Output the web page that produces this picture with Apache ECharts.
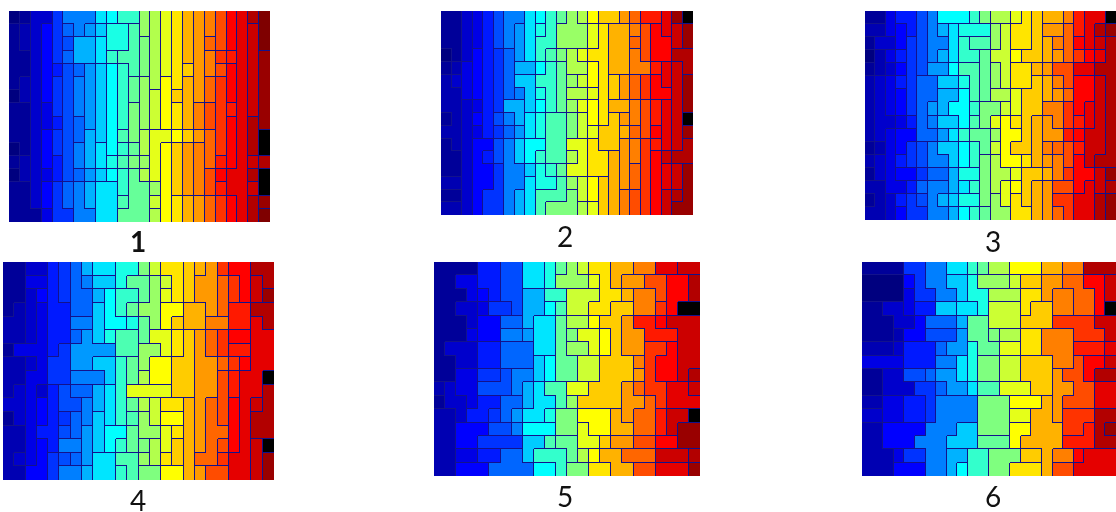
<!DOCTYPE html>
<html>
<head>
<meta charset="utf-8">
<style>html,body{margin:0;padding:0;background:#fff}#c{width:1116px;height:512px}</style>
<script src="https://cdn.jsdelivr.net/npm/echarts@6/dist/echarts.min.js"></script>
</head>
<body>
<div id="c"></div>
<script>
// Colour level of each cell (0 dark blue .. 40 dark red, -1 black hole)
const panel1 = [
[0,1,3,3,7,10,10,10,14,15,17,17,21,22,24,26,28,29,30,32,35,36,38,40],
[1,2,3,5,7,9,10,11,13,16,16,18,21,22,24,26,28,29,30,32,35,36,37,40],
[1,2,3,5,7,8,12,12,14,16,16,18,20,22,24,26,28,29,31,32,35,36,37,40],
[1,1,3,5,7,9,12,12,14,17,18,18,20,22,24,26,28,29,30,33,34,36,37,39],
[1,1,3,5,6,8,9,11,13,15,17,18,20,22,24,26,27,29,30,32,35,36,37,39],
[1,2,3,5,7,8,10,11,13,15,17,19,21,22,25,26,28,29,31,33,35,36,37,39],
[0,2,3,5,7,8,10,11,13,15,17,19,21,23,25,27,28,29,31,33,35,36,37,39],
[1,1,3,4,7,8,10,11,13,15,17,20,21,23,25,26,28,30,32,33,34,36,37,39],
[1,1,3,4,6,8,9,11,13,15,17,20,21,23,25,26,28,30,32,33,35,36,38,39],
[1,1,3,5,7,8,9,12,13,15,18,20,22,24,24,25,27,29,31,33,35,36,38,-1],
[0,1,3,5,7,8,10,12,14,15,17,19,22,24,25,27,29,30,31,33,35,36,38,-1],
[1,2,3,5,6,8,10,12,14,16,18,20,21,24,25,27,29,30,31,34,35,36,37,38],
[0,2,3,4,6,8,9,11,13,15,17,19,22,24,25,27,29,30,32,35,36,36,38,-1],
[1,1,3,5,7,9,10,12,14,14,17,19,19,21,25,27,29,30,32,34,36,36,37,-1],
[1,1,3,5,7,9,10,12,14,14,18,19,19,23,25,26,28,29,31,33,35,36,38,39],
[1,1,1,4,7,7,10,10,14,14,19,19,19,22,25,26,28,29,31,33,35,36,38,40]
];
const panel2 = [
[1,1,3,4,6,8,10,10,14,15,17,19,21,22,25,27,27,29,31,34,34,36,39,-1],
[1,1,3,4,6,8,10,11,14,16,17,21,21,21,24,26,28,28,30,32,35,36,37,39],
[1,1,3,4,6,8,10,11,14,17,17,21,21,21,24,26,28,28,31,32,35,35,37,39],
[0,1,3,5,6,7,9,11,14,17,18,20,22,24,26,26,28,28,30,32,35,35,38,38],
[1,2,4,5,6,7,9,12,12,15,17,19,22,22,25,26,28,28,30,30,34,36,37,38],
[2,3,4,5,6,7,9,13,13,17,17,19,21,23,25,26,27,29,31,33,35,36,37,39],
[2,2,4,5,6,7,9,10,13,16,17,19,22,22,24,26,27,29,31,33,35,35,37,39],
[2,2,3,4,6,7,12,12,13,15,17,19,21,24,25,26,28,28,30,32,34,36,37,39],
[1,2,3,5,6,8,10,12,14,16,18,18,20,23,25,26,27,29,30,32,34,36,37,-1],
[2,2,3,4,6,7,9,11,14,16,18,18,20,23,24,27,27,28,31,32,35,36,37,39],
[1,2,3,5,5,8,10,13,15,15,18,18,24,24,26,27,27,29,30,33,34,36,37,38],
[1,1,3,5,6,8,10,13,15,17,18,18,22,24,26,26,28,29,30,33,35,37,38,38],
[1,1,3,5,5,7,10,10,13,16,17,19,24,24,26,26,28,29,31,33,35,36,37,39],
[2,2,3,5,5,7,10,10,14,16,16,18,21,23,25,27,28,29,31,33,35,36,37,39],
[1,1,3,5,7,7,10,12,14,18,18,18,20,23,25,27,28,30,32,33,35,37,38,39],
[2,2,3,5,7,7,10,12,14,18,20,20,20,22,24,27,28,30,32,33,35,37,39,39]
];
const panel3 = [
[1,1,4,6,6,8,10,15,15,15,17,20,22,22,24,26,27,28,28,30,34,36,36,-1],
[2,2,4,5,6,8,10,12,14,16,16,16,21,23,26,26,27,29,29,31,34,36,38,39],
[1,3,3,5,7,8,10,10,14,17,18,18,21,23,26,26,27,28,30,31,35,36,37,38],
[0,2,4,6,7,8,10,12,14,17,17,19,23,23,25,27,27,28,29,31,33,35,36,38],
[1,2,3,5,7,8,11,11,15,18,18,19,21,23,26,26,28,29,32,32,36,36,38,38],
[2,3,4,6,7,9,9,13,13,16,18,19,21,23,26,26,27,28,30,32,35,35,37,38],
[2,3,4,5,7,9,9,12,12,15,18,19,22,22,24,27,27,28,29,31,35,35,37,38],
[2,3,4,5,7,9,11,12,15,15,17,20,20,23,24,27,27,30,30,33,35,36,37,38],
[2,3,3,4,6,9,10,13,13,15,18,20,24,25,26,27,28,29,30,33,34,36,37,38],
[2,3,4,5,5,9,9,11,14,17,19,19,21,25,25,27,28,29,29,34,35,37,37,38],
[1,2,4,5,7,8,10,13,13,15,17,19,23,25,27,27,28,30,31,32,34,37,37,38],
[2,3,4,6,7,8,10,10,13,15,17,20,22,25,25,26,28,29,30,32,35,37,38,38],
[1,3,4,5,5,7,9,9,12,16,16,20,22,22,24,27,27,28,30,33,35,35,37,39],
[2,2,4,4,6,9,10,10,12,14,17,20,22,24,25,27,28,29,32,32,35,36,37,38],
[1,2,3,6,7,8,10,12,13,16,16,20,21,24,26,27,28,29,33,33,36,36,38,39],
[2,2,3,5,7,7,10,10,12,15,17,19,21,21,26,26,28,29,31,33,36,36,38,39]
];
const panel4 = [
[1,1,3,3,6,7,9,12,14,14,16,16,20,23,26,26,27,28,29,33,35,35,38,38],
[1,1,4,4,6,7,9,10,13,13,16,19,19,21,23,26,27,29,29,31,33,35,37,38],
[1,1,3,5,6,7,9,9,12,15,17,17,19,21,24,26,27,29,29,31,33,35,37,39],
[1,2,3,4,6,6,9,9,13,15,17,19,21,21,25,25,28,28,29,31,34,34,38,38],
[2,2,3,4,6,6,10,10,13,15,15,16,19,21,25,27,28,28,30,30,34,34,36,38],
[2,2,3,4,6,6,9,11,13,16,18,18,19,24,24,26,27,29,31,33,35,35,36,36],
[1,4,4,4,6,7,11,11,11,11,18,18,21,21,24,26,27,29,31,33,34,34,36,36],
[2,2,3,4,7,7,11,11,13,13,17,19,21,25,25,27,27,29,29,31,33,35,36,36],
[2,2,4,4,7,7,10,10,10,13,17,19,22,25,25,27,27,29,29,32,34,36,36,-1],
[2,3,4,3,6,8,9,9,12,14,17,24,24,24,24,27,27,29,29,32,34,36,36,38],
[3,3,4,5,6,8,8,10,12,14,17,19,22,23,26,26,28,29,31,32,35,36,37,38],
[1,3,4,5,6,7,9,10,13,14,17,18,21,23,25,25,28,29,31,32,35,36,38,38],
[2,2,4,6,6,8,9,11,13,15,15,19,21,21,24,26,28,29,31,31,35,36,38,38],
[2,2,4,5,6,10,10,11,13,15,17,19,20,22,24,27,28,29,31,32,35,36,37,-1],
[2,3,4,5,7,8,9,11,14,14,18,18,21,22,26,27,28,31,31,33,36,36,37,39],
[2,2,5,5,7,10,10,12,14,14,17,18,20,20,25,25,28,29,32,32,36,36,37,39]
];
const panel5 = [
[1,1,1,1,6,6,8,8,14,14,16,19,21,23,26,26,28,28,30,30,36,36,37,37],
[1,1,4,4,6,6,8,8,14,14,16,21,21,21,24,26,28,29,29,32,32,35,35,38],
[1,1,1,4,5,6,8,8,12,12,17,17,23,23,23,26,26,28,30,30,32,35,35,38],
[1,1,3,3,4,7,7,8,12,12,15,18,23,23,26,26,27,27,30,30,33,35,-1,-1],
[1,1,1,3,5,5,9,9,12,14,14,19,22,22,25,27,27,29,34,34,35,37,37,37],
[1,1,1,4,5,5,10,10,11,14,14,19,20,24,24,25,27,29,29,34,34,34,37,37],
[1,3,3,3,6,6,9,9,9,14,14,19,21,21,24,25,27,29,29,33,33,35,37,37],
[1,1,3,3,6,6,9,9,9,13,15,19,19,23,23,27,27,27,30,33,35,35,37,37],
[1,1,4,4,7,7,8,10,10,13,15,19,19,23,23,27,27,27,29,33,35,35,37,38],
[2,3,4,4,8,8,8,10,12,14,18,18,24,24,27,27,27,29,31,33,33,36,36,37],
[1,3,3,4,6,6,9,9,12,14,14,18,21,27,27,27,27,29,29,31,33,36,36,36],
[2,2,3,6,6,7,9,11,14,14,16,20,20,25,25,25,28,29,31,31,34,37,37,-1],
[2,2,5,5,5,8,8,10,15,15,15,20,20,24,25,25,28,28,31,31,34,37,39,39],
[2,2,5,5,7,7,7,7,13,13,18,19,19,24,24,27,29,29,32,32,35,35,39,39],
[2,2,4,4,6,6,9,9,13,17,17,17,19,22,25,28,28,31,31,31,37,37,37,38],
[2,2,5,5,5,9,9,9,9,15,15,17,20,20,26,26,28,28,32,32,36,36,36,39]
];
const panel6 = [
[1,1,1,1,7,7,10,10,14,14,17,19,22,22,25,25,25,28,28,30,30,38,38,38],
[0,0,0,0,5,7,10,10,13,13,16,21,21,21,23,27,27,29,29,31,31,35,35,37],
[0,0,0,0,4,7,7,10,10,13,16,16,22,22,22,26,26,29,30,30,31,31,35,37],
[1,1,3,3,4,6,6,13,13,14,14,16,23,23,23,26,27,27,30,30,31,31,35,-1],
[1,1,1,3,3,5,9,9,9,12,19,19,23,23,23,27,27,27,33,33,33,33,37,37],
[1,1,1,2,5,5,8,8,8,11,19,19,20,22,22,26,26,30,30,30,33,33,33,37],
[2,2,2,3,6,6,6,9,11,11,16,19,19,24,24,26,26,30,30,30,34,34,34,36],
[4,4,4,4,6,6,6,10,10,14,16,20,20,23,23,27,27,27,30,30,32,35,35,37],
[1,1,3,3,8,8,9,11,11,14,16,20,20,23,23,27,27,27,29,32,32,35,38,38],
[1,1,3,3,3,7,7,9,11,11,14,18,18,24,24,24,27,27,29,29,32,32,36,36],
[2,2,4,4,6,6,7,10,10,10,10,20,20,20,25,25,25,28,29,32,32,32,36,36],
[3,3,4,4,6,6,7,10,10,10,10,20,20,20,24,24,28,28,29,33,33,33,38,38],
[2,2,5,5,5,5,10,10,10,13,13,20,20,20,25,25,28,28,28,33,33,34,38,39],
[2,2,5,5,5,10,10,10,13,13,13,19,19,19,25,28,28,28,28,34,34,34,38,38],
[2,2,2,4,7,7,10,10,12,12,17,17,20,20,20,27,27,28,30,30,35,36,36,36],
[2,2,2,5,5,5,10,10,12,15,17,17,20,20,26,26,26,28,32,32,36,36,36,36]
];
const panels = [panel1, panel2, panel3, panel4, panel5, panel6];
const panelLabels = ['1', '2', '3', '4', '5', '6'];
const jetColours = ['#00007f','#0000ff','#007fff','#00ffff','#7fff7f','#ffff00','#ff7f00','#ff0000','#7f0000'];

// Layout, in pixels
const boxes = [[9,11,261,211],[441,11,252,204],[865,11,251,209],[3,262,271,218],[434,262,266,214],[862,262,254,214]];
const labelPos = [[138,243],[565,238],[993,243],[138,502],[565,498],[993,498]];
const EDGE = '#13128c';

const grid = [], xAxis = [], yAxis = [], series = [], title = [];
panels.forEach((m, p) => {
  const b = boxes[p];
  grid.push({left: b[0], top: b[1], width: b[2], height: b[3], containLabel: false});
  xAxis.push({type: 'category', gridIndex: p, show: false, data: m[0].map((_, i) => String(i))});
  yAxis.push({type: 'category', gridIndex: p, show: false, inverse: true, data: m.map((_, i) => String(i))});
  const data = [];
  m.forEach((row, r) => row.forEach((v, c) => data.push([c, r, v])));
  series.push({
    type: 'custom', xAxisIndex: p, yAxisIndex: p, data, silent: true,
    encode: {x: 0, y: 1},
    renderItem: (params, api) => {
      const c = api.value(0), r = api.value(1);
      const cs = params.coordSys;
      const nx = m[0].length, ny = m.length;
      const x0 = Math.round(cs.x + c * cs.width / nx), x1 = Math.round(cs.x + (c + 1) * cs.width / nx);
      const y0 = Math.round(cs.y + r * cs.height / ny), y1 = Math.round(cs.y + (r + 1) * cs.height / ny);
      const v = m[r][c];
      const fill = v < 0 ? '#000' : api.visual('color');
      const children = [{type: 'rect', shape: {x: x0, y: y0, width: x1 - x0, height: y1 - y0}, style: {fill}}];
      if (c + 1 < nx && m[r][c + 1] !== v)
        children.push({type: 'rect', shape: {x: x1 - 1, y: y0, width: 1, height: y1 - y0}, style: {fill: EDGE}});
      if (r + 1 < ny && m[r + 1][c] !== v)
        children.push({type: 'rect', shape: {x: x0, y: y1 - 1, width: x1 - x0, height: 1}, style: {fill: EDGE}});
      return {type: 'group', children};
    }
  });
  title.push({
    text: panelLabels[p], left: labelPos[p][0], top: labelPos[p][1], textAlign: 'center', textVerticalAlign: 'middle',
    padding: 0,
    textStyle: {fontFamily: 'Lato', fontSize: 28, fontWeight: p === 0 ? 'bold' : 'normal', color: '#111'}
  });
});

const chart = echarts.init(document.getElementById('c'), null, {renderer: 'canvas'});
chart.setOption({
  animation: false, backgroundColor: '#fff', title, grid, xAxis, yAxis, series,
  visualMap: {
    show: false, type: 'continuous', min: 0, max: 40, dimension: 2, seriesIndex: panels.map((_, i) => i),
    inRange: {color: jetColours}
  }
});
</script>
</body>
</html>
